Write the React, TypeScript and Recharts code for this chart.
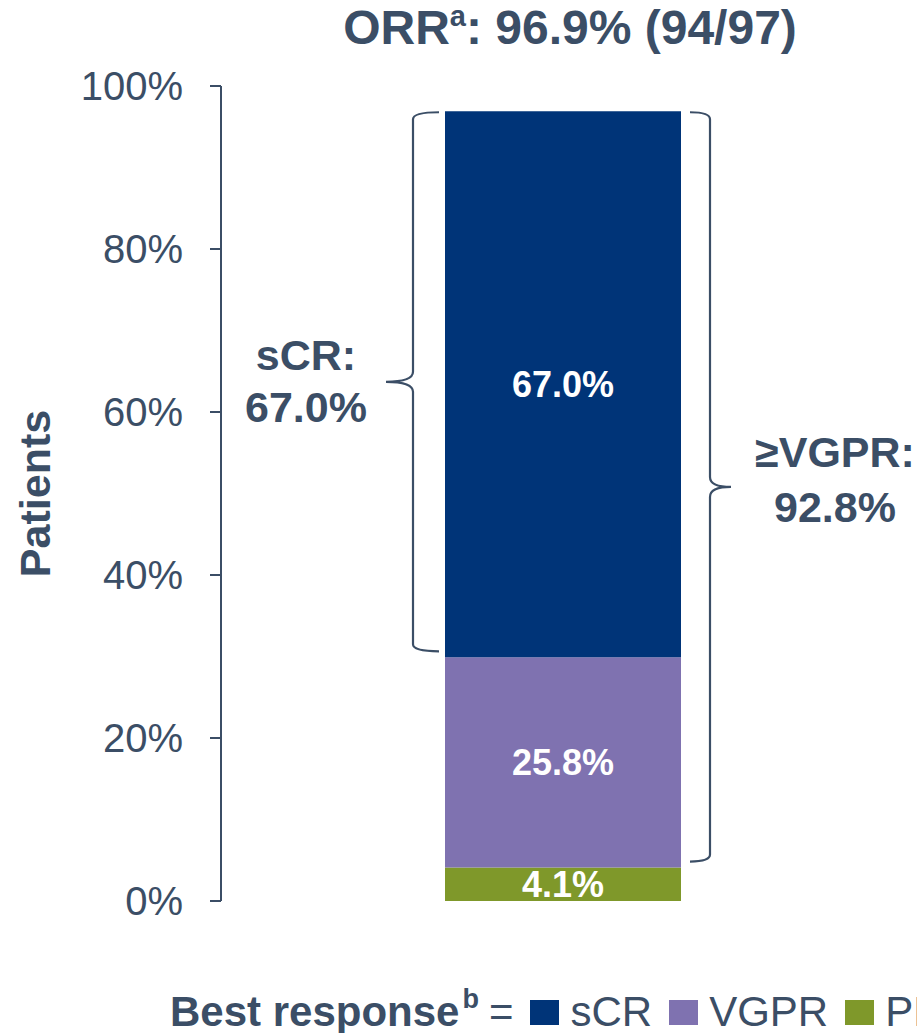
import { BarChart, Bar, XAxis, YAxis, ReferenceArea, LabelList, Label, Legend } from 'recharts'

const CATEGORIES = ['Best response']
const SCR = [67.0]
const VGPR = [25.8]
const PR = [4.1]
const Y_TICKS = [0, 20, 40, 60, 80, 100]

// stacking order: bottom first
const SERIES = [
  { key: 'PR', name: 'PR', color: '#7f982a', values: PR },
  { key: 'VGPR', name: 'VGPR', color: '#7f72b0', values: VGPR },
  { key: 'sCR', name: 'sCR', color: '#003478', values: SCR },
]

const data = CATEGORIES.map((name, i) => {
  const row: Record<string, string | number> = { name }
  SERIES.forEach(s => { row[s.key] = s.values[i] })
  return row
})

const TEXT = '#3b4e66'
const FONT = '"Liberation Sans", Arial, sans-serif'
const BAR = 236

const scrTotal = SCR[0]
const vgprPlus = SCR[0] + VGPR[0]
const orrTotal = SCR[0] + VGPR[0] + PR[0]

function brace(vx: number, top: number, bottom: number, dir: number, arm: number, tip: number) {
  const mid = (top + bottom) / 2
  const r = 7
  const endX = vx - dir * arm
  const tipX = vx + dir * tip
  return `M${endX},${top} Q${vx},${top} ${vx},${top + r} L${vx},${mid - 10} Q${vx},${mid} ${tipX},${mid} ` +
    `Q${vx},${mid} ${vx},${mid + 10} L${vx},${bottom - r} Q${vx},${bottom} ${endX},${bottom}`
}

const LeftBrace = (p: any) => {
  const cx = p.x + p.width / 2
  const vx = cx - BAR / 2 - 32
  const top = p.y + 1
  const bottom = p.y + p.height - 6
  const mid = (top + bottom) / 2
  return (
    <g>
      <path d={brace(vx, top, bottom, -1, 26, 27)} fill="none" stroke={TEXT} strokeWidth={2.2} />
      <text x={vx - 107} y={mid - 12} textAnchor="middle" fill={TEXT} fontSize={43} fontWeight={700} fontFamily={FONT}>sCR:</text>
      <text x={vx - 107} y={mid + 40} textAnchor="middle" fill={TEXT} fontSize={43} fontWeight={700} fontFamily={FONT}>{scrTotal.toFixed(1)}%</text>
    </g>
  )
}

const RightBrace = (p: any) => {
  const cx = p.x + p.width / 2
  const vx = cx + BAR / 2 + 29
  const top = p.y + 1
  const bottom = p.y + p.height - 6
  const mid = (top + bottom) / 2
  return (
    <g>
      <path d={brace(vx, top, bottom, 1, 20, 21)} fill="none" stroke={TEXT} strokeWidth={2.2} />
      <text x={vx + 125} y={mid - 20} textAnchor="middle" fill={TEXT} fontSize={43} fontWeight={700} fontFamily={FONT}>≥VGPR:</text>
      <text x={vx + 125} y={mid + 35} textAnchor="middle" fill={TEXT} fontSize={43} fontWeight={700} fontFamily={FONT}>{vgprPlus.toFixed(1)}%</text>
    </g>
  )
}

const LegendContent = () => (
  <div style={{
    display: 'flex', alignItems: 'center', whiteSpace: 'nowrap', color: TEXT, fontFamily: FONT, height: 50,
  }}>
    <span style={{ fontSize: 42, fontWeight: 700 }}>
      Best response<sup style={{ fontSize: 27, verticalAlign: 'top', position: 'relative', top: -4, marginLeft: 3 }}>b</sup>
    </span>
    <span style={{ fontSize: 42, margin: '0 17px 0 10px' }}>=</span>
    {[...SERIES].reverse().map(s => (
      <span key={s.key} style={{ display: 'flex', alignItems: 'center', marginRight: 17 }}>
        <span style={{ width: 29, height: 25, background: s.color, marginRight: 11, display: 'inline-block' }} />
        <span style={{ fontSize: 42 }}>{s.name}</span>
      </span>
    ))}
  </div>
)

export default function App() {
  return (
    <div style={{ position: 'absolute', left: 0, top: 0, width: 917, height: 1033, overflow: 'hidden', background: '#fff' }}>
      <div style={{
        position: 'absolute', left: 570, top: 4, transform: 'translateX(-50%)', whiteSpace: 'nowrap',
        fontFamily: FONT, fontWeight: 700, fontSize: 48, lineHeight: 1, color: TEXT,
      }}>
        ORR<sup style={{ fontSize: 29, verticalAlign: 'top', position: 'relative', top: -2 }}>a</sup>: {orrTotal.toFixed(1)}% (94/97)
      </div>
      <BarChart width={917} height={1033} data={data} margin={{ top: 86, right: 12, left: 0, bottom: 132 }}>
        <XAxis dataKey="name" hide />
        <YAxis
          width={221}
          domain={[0, 100]}
          ticks={Y_TICKS}
          interval={0}
          tickFormatter={(v: number) => `${v}%`}
          tick={{ fontSize: 40, fill: TEXT, fontFamily: FONT }}
          axisLine={{ stroke: TEXT, strokeWidth: 2 }}
          tickLine={{ stroke: TEXT, strokeWidth: 2 }}
          tickSize={11}
          tickMargin={27}
        >
          <Label
            content={({ viewBox }: any) => {
              const cx = 35
              const cy = viewBox.y + viewBox.height / 2
              return (
                <text x={cx} y={cy} transform={`rotate(-90 ${cx} ${cy})`} textAnchor="middle" dominantBaseline="central"
                  fill={TEXT} fontSize={43} fontWeight={700} fontFamily={FONT}>Patients</text>
              )
            }}
          />
        </YAxis>
        <Legend verticalAlign="middle" align="center" content={<LegendContent />}
          wrapperStyle={{ top: 987, left: 170, width: 1000 }} />
        {SERIES.map(s => (
          <Bar key={s.key} dataKey={s.key} name={s.name} stackId="a" fill={s.color} barSize={BAR} isAnimationActive={false}>
            <LabelList dataKey={s.key} position="center" fill="#fff" fontSize={36} fontWeight={700} fontFamily={FONT}
              formatter={(v: any) => `${Number(v).toFixed(1)}%`} />
          </Bar>
        ))}
        <ReferenceArea y1={PR[0] + VGPR[0]} y2={orrTotal} ifOverflow="visible" shape={LeftBrace} />
        <ReferenceArea y1={PR[0]} y2={orrTotal} ifOverflow="visible" shape={RightBrace} />
      </BarChart>
    </div>
  )
}
